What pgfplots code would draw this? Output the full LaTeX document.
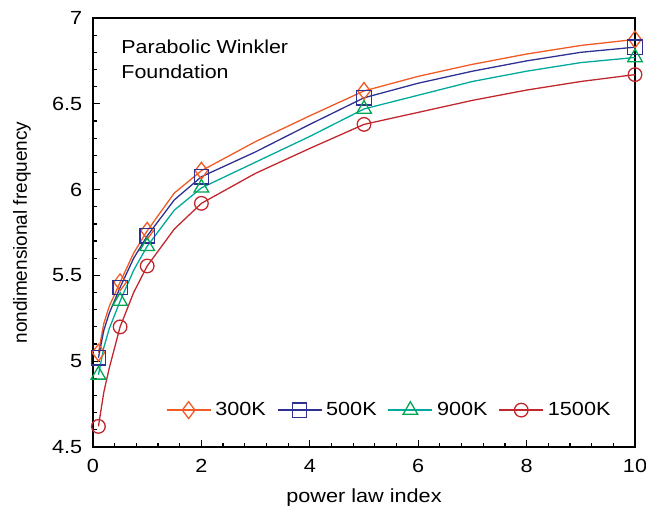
\documentclass[border=0pt]{standalone}
\usepackage{pgfplots}
\pgfplotsset{compat=1.18}
\usepackage{fontspec}
\setmainfont{Liberation Sans}[FakeStretch=1.14]
\newfontfamily\plainfont{Liberation Sans}
\definecolor{cOrange}{RGB}{241,90,36}
\definecolor{cBlue}{RGB}{46,49,146}
\definecolor{cTeal}{RGB}{0,169,157}
\definecolor{cGreen}{RGB}{0,166,81}
\definecolor{cRed}{RGB}{193,39,45}
\begin{document}
\fontsize{9.5bp}{11.5bp}\selectfont
\begin{tikzpicture}
\useasboundingbox (-46.5bp,-34.5bp) rectangle (276.5bp,223.5bp);
\begin{axis}[
  at={(0,0)}, anchor=south west,
  scale only axis,
  width=271bp, height=214.5bp,
  xmin=0, xmax=10, ymin=4.5, ymax=7,
  xtick={0,2,4,6,8,10},
  ytick={4.5,5,5.5,6,6.5,7},
  minor x tick num=4, minor y tick num=4,
  xtick pos=left, ytick pos=left,
  tick align=inside,
  major tick length=3.5bp, minor tick length=2bp,
  every tick/.style={black, line width=0.6pt},
  axis line style={line width=0.9pt},
  /pgf/number format/assume math mode=true,
  yticklabel style={/pgf/number format/fixed, xshift=-2bp},
  xticklabel style={yshift=-3bp},
  xlabel={power law index},
  ylabel={\plainfont nondimensional frequency},
  xlabel style={at={(axis description cs:0.5,-0.117)}, anchor=center},
  ylabel style={at={(axis description cs:-0.131,0.5)}, anchor=center},
  legend columns=4,
  legend style={draw=none, fill=none, inner sep=0pt, at={(0.963,0.086)}, anchor=east,
    nodes={inner sep=2bp},
    /tikz/every even column/.append style={column sep=3.5bp}},
  legend image code/.code={\draw[mark indices={2}] plot coordinates {(0cm,0cm) (11bp,0cm) (22bp,0cm)};},
  every axis plot/.append style={line width=0.65pt},
]
\addplot[cOrange, mark=diamond, mark size=4.2bp, mark indices={1,4,6,8,11,16}, mark options={fill=white, solid}] coordinates {
(0.1,5.05) (0.2,5.22) (0.3,5.32) (0.5,5.46) (0.75,5.63) (1,5.76) (1.5,5.98) (2,6.11)
(3,6.28) (4,6.43) (5,6.575) (6,6.66) (7,6.73) (8,6.79) (9,6.84) (10,6.875)};
\addlegendentry{300K}
\addplot[cBlue, mark=square, mark size=3.6bp, mark indices={1,4,6,8,11,16}, mark options={fill=white, solid}] coordinates {
(0.1,5.02) (0.2,5.18) (0.3,5.28) (0.5,5.43) (0.75,5.60) (1,5.73) (1.5,5.94) (2,6.075)
(3,6.22) (4,6.38) (5,6.535) (6,6.62) (7,6.69) (8,6.75) (9,6.80) (10,6.83)};
\addlegendentry{500K}
\addplot[cTeal, mark=triangle, mark size=4.2bp, mark indices={1,4,6,8,11,16}, mark options={fill=white, solid, draw=cGreen}] coordinates {
(0.1,4.92) (0.2,5.08) (0.3,5.19) (0.5,5.35) (0.75,5.53) (1,5.67) (1.5,5.88) (2,6.01)
(3,6.16) (4,6.31) (5,6.47) (6,6.55) (7,6.63) (8,6.69) (9,6.74) (10,6.77)};
\addlegendentry{900K}
\addplot[cRed, mark=o, mark size=3.4bp, mark indices={1,4,6,8,11,16}, mark options={fill=white, solid}] coordinates {
(0.1,4.62) (0.2,4.82) (0.3,4.96) (0.5,5.20) (0.75,5.40) (1,5.555) (1.5,5.77) (2,5.92)
(3,6.095) (4,6.24) (5,6.38) (6,6.45) (7,6.52) (8,6.58) (9,6.63) (10,6.67)};
\addlegendentry{1500K}
\node[anchor=north west, align=left, font=\fontsize{9.4bp}{12.5bp}\selectfont] at (rel axis cs:0.04,0.965) {Parabolic Winkler\\Foundation};
\end{axis}
\end{tikzpicture}
\end{document}
